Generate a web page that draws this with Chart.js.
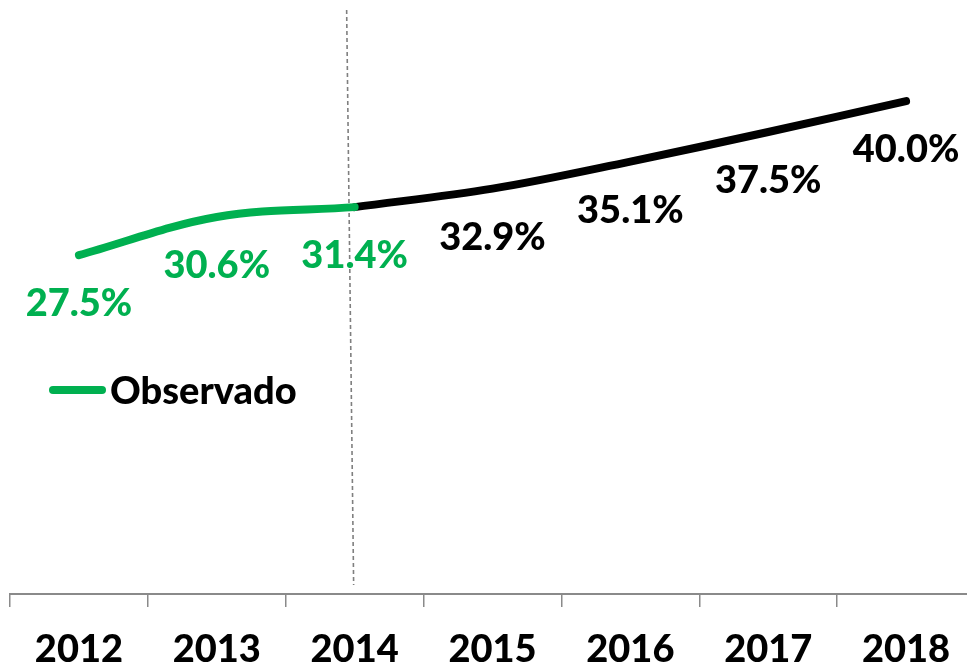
<!DOCTYPE html>
<html><head><meta charset="utf-8">
<script src="https://cdn.jsdelivr.net/npm/chart.js@4/dist/chart.umd.min.js"></script>
<style>
html,body{margin:0;padding:0;overflow:hidden;background:#fff;width:967px;height:665px}
#wrap{position:absolute;left:0;top:0;width:975px;height:665px}
</style>
</head><body><div id="wrap"><canvas id="c"></canvas></div>
<script>
const years = ['2012','2013','2014','2015','2016','2017','2018'];
const observed = [27.5, 30.6, 31.4, null, null, null, null];
const projected = [null, null, 31.4, 32.9, 35.1, 37.5, 40.0];
const observedLabels = ['27.5%','30.6%','31.4%','','','',''];
const projectedLabels = ['','','','32.9%','35.1%','37.5%','40.0%'];
const legendLabel = 'Observado';
const dividerCategory = '2014';

const GREEN = '#00B050';
const FONT = 'Lato';
const WEIGHT = '900';

const overlay = {
  id: 'overlay',
  beforeDatasetsDraw(chart) {
    const ctx = chart.ctx, a = chart.chartArea;
    const x = chart.scales.x.getPixelForValue(years.indexOf(dividerCategory));
    ctx.save();
    ctx.strokeStyle = '#7f7f7f';
    ctx.lineWidth = 1.6;
    ctx.setLineDash([4, 3]);
    ctx.beginPath();
    ctx.moveTo(x - 8, a.top);
    ctx.lineTo(x - 1, a.bottom - 9);
    ctx.stroke();
    ctx.restore();
  },
  afterDatasetsDraw(chart) {
    const ctx = chart.ctx;
    ctx.save();
    ctx.font = WEIGHT + ' 38px ' + FONT;
    ctx.textAlign = 'center';
    ctx.textBaseline = 'alphabetic';
    const sets = [[0, observedLabels, GREEN], [1, projectedLabels, '#000']];
    sets.forEach(([di, labels, col]) => {
      const meta = chart.getDatasetMeta(di);
      meta.data.forEach((pt, i) => {
        if (!labels[i]) return;
        ctx.fillStyle = col;
        ctx.fillText(labels[i], pt.x, pt.y + 61);
      });
    });
    // legend
    const lx = 50, ly = 390;
    ctx.strokeStyle = GREEN;
    ctx.lineWidth = 8;
    ctx.lineCap = 'round';
    ctx.beginPath();
    ctx.moveTo(lx + 3, ly);
    ctx.lineTo(lx + 52, ly);
    ctx.stroke();
    ctx.fillStyle = '#000';
    ctx.textAlign = 'left';
    ctx.fillText(legendLabel, lx + 60, ly + 13.5);
    ctx.restore();
  }
};

new Chart(document.getElementById('c'), {
  type: 'line',
  data: {
    labels: years,
    datasets: [
      { label: legendLabel, data: observed, borderColor: GREEN, borderWidth: 8, pointRadius: 0, tension: 0.35, borderCapStyle: 'round', borderJoinStyle: 'round', spanGaps: false },
      { label: 'Proyectado', data: projected, borderColor: '#000', borderWidth: 8, pointRadius: 0, tension: 0.35, borderCapStyle: 'round', borderJoinStyle: 'round', spanGaps: false }
    ]
  },
  options: {
    responsive: true,
    maintainAspectRatio: false,
    animation: false,
    layout: { padding: { left: 10, right: 0, top: 10, bottom: 0 } },
    plugins: { legend: { display: false }, tooltip: { enabled: false } },
    scales: {
      x: {
        type: 'category',
        offset: true,
        grid: { display: true, drawOnChartArea: false, drawTicks: true, tickLength: 13, color: '#8a8a8a', lineWidth: 1.5, offset: true },
        border: { display: true, color: '#8a8a8a', width: 2 },
        ticks: { color: '#000', font: { family: FONT, size: 38, weight: WEIGHT }, padding: 20, maxRotation: 0, autoSkip: false },
        afterFit(scale) { scale.height = 71; }
      },
      y: { display: false, min: 0, max: 47.4 }
    }
  },
  plugins: [overlay]
});
</script>
</body></html>
